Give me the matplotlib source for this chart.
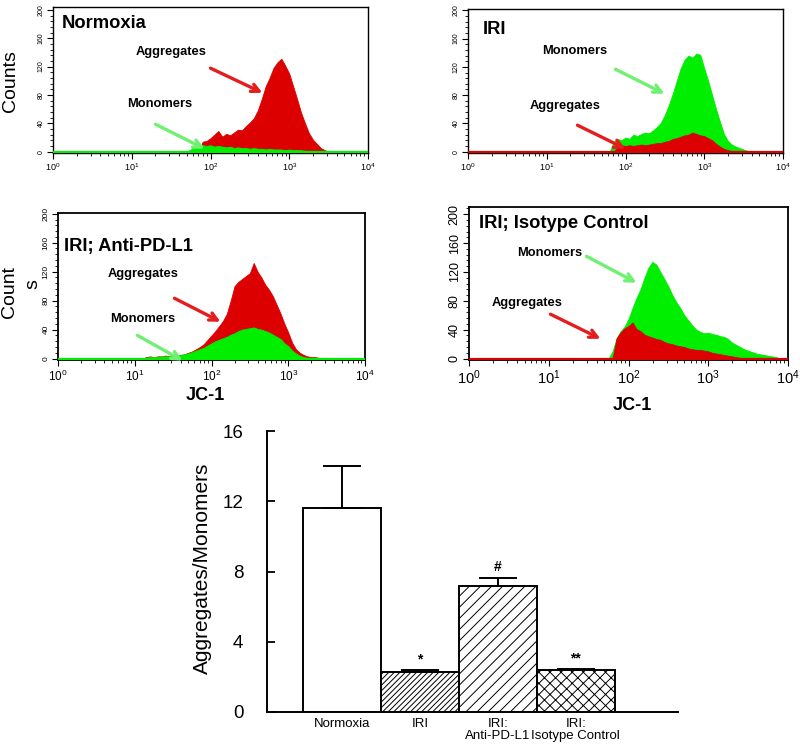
import numpy as np
import matplotlib
matplotlib.use('Agg')
import matplotlib.pyplot as plt
from matplotlib.ticker import MultipleLocator, LogLocator, NullFormatter

plt.rcParams['font.family'] = ['Liberation Sans', 'DejaVu Sans']
plt.rcParams['hatch.linewidth'] = 0.7

W, H = 800, 746
RED = '#dc0000'
GREEN = '#00ee00'
RED_ARROW = '#e41e1e'
GREEN_ARROW = '#70f070'

# ---- flow cytometry histograms: counts per bin, bins 0.05 decade wide ----
# first bin centre given as log10(JC-1)
norm_start = 1.70
norm_red = [0, 0, 0, 0, 14, 15, 19, 24, 29, 21, 25, 23, 27, 31, 30, 36, 41, 47,
            58, 74, 92, 104, 118, 126, 131, 121, 110, 92, 74, 55, 40, 26, 17, 11,
            5, 2, 0, 0]
norm_green = [0, 3, 8, 10, 9, 8, 9, 7, 8, 7, 6, 7, 5, 6, 5, 5, 4, 5, 4, 4, 3, 4,
              3, 3, 3, 2, 3, 2, 2, 2, 1, 1, 1, 1, 0, 0, 0, 0]

iri_start = 1.80
iri_green = [0, 14, 18, 16, 20, 18, 24, 22, 25, 27, 26, 30, 35, 41, 52, 66, 82,
             100, 118, 130, 136, 133, 139, 137, 118, 100, 80, 60, 42, 25, 15, 10,
             7, 5, 3, 1, 0]
iri_red = [0, 0, 6, 9, 8, 9, 8, 9, 10, 9, 10, 11, 12, 12, 14, 15, 18, 19, 21, 23,
           24, 27, 25, 23, 22, 19, 16, 11, 7, 4, 2, 1, 0, 0, 0, 0, 0]

anti_start = 1.10
anti_red = [0, 2, 3, 2, 3, 3, 4, 3, 4, 5, 5, 6, 8, 10, 13, 16, 20, 26, 32, 38,
            45, 52, 62, 80, 100, 106, 110, 114, 118, 132, 120, 112, 102, 95, 86,
            74, 62, 48, 36, 22, 13, 8, 5, 3, 2, 2, 1, 1, 1, 0, 0]
anti_green = [0, 1, 2, 2, 2, 3, 3, 3, 4, 5, 5, 6, 7, 9, 11, 13, 15, 18, 21, 24,
              26, 28, 30, 33, 35, 38, 40, 41, 42, 43, 41, 40, 38, 36, 33, 30, 27,
              21, 17, 11, 7, 4, 2, 1, 0, 0, 0, 0, 0, 0, 0]

iso_start = 1.75
iso_red = [0, 0, 28, 36, 42, 45, 50, 41, 38, 33, 31, 29, 27, 26, 23, 21, 20, 18,
           17, 16, 14, 13, 12, 12, 11, 10, 8, 7, 6, 5, 4, 3, 2, 1, 0, 0, 0, 0, 0,
           0, 0, 0, 0, 0]
iso_green = [0, 10, 28, 38, 44, 55, 70, 84, 96, 112, 126, 134, 130, 120, 110, 100,
             88, 78, 70, 60, 53, 46, 40, 37, 35, 36, 34, 33, 31, 30, 27, 22, 19,
             16, 13, 11, 9, 7, 6, 5, 4, 3, 2, 0]

# ---- bar chart ----
groups = ['Normoxia', 'IRI', 'IRI:\nAnti-PD-L1', 'IRI:\nIsotype Control']
ratio = [11.6, 2.3, 7.15, 2.4]
ratio_err = [2.4, 0.1, 0.5, 0.05]
marks = ['', '*', '#', '**']
hatches = ['', '//////', '///', 'xxx']

fig = plt.figure(figsize=(W / 100, H / 100), dpi=100)


def fp(x, y):
    """pixel position -> figure fraction"""
    return (x / W, 1 - y / H)


def hist_panel(box, ytop, start, red, green, red_on_top, base_color,
               xt_size, yt_size, frame_lw):
    l, t, r, b = box
    ax = fig.add_axes([l / W, 1 - b / H, (r - l) / W, (b - t) / H])
    x = 10 ** (start + 0.05 * np.arange(len(red)))
    layers = [(green, GREEN), (red, RED)] if red_on_top else [(red, RED), (green, GREEN)]
    for z, (vals, col) in enumerate(layers):
        ax.fill_between(x, vals, color=col, lw=0.6, edgecolor=col, zorder=2 + z)
    ax.axhline(0, color=base_color, lw=1.6, zorder=5)
    ax.set_xscale('log')
    ax.set_xlim(1, 1e4)
    ax.set_ylim(-2, ytop)
    ax.set_xticks([1, 10, 100, 1000, 10000])
    ax.set_xticklabels([r'$\mathdefault{10^{%d}}$' % i for i in range(5)])
    ax.xaxis.set_minor_locator(LogLocator(base=10, subs=np.arange(2, 10)))
    ax.xaxis.set_minor_formatter(NullFormatter())
    ax.set_yticks(range(0, 201, 40))
    ax.yaxis.set_minor_locator(MultipleLocator(8))
    ax.tick_params(axis='x', which='major', labelsize=xt_size, length=4, pad=2)
    ax.tick_params(axis='y', which='major', labelsize=yt_size, length=4, pad=2,
                   labelrotation=90)
    ax.tick_params(which='minor', length=2)
    for s in ax.spines.values():
        s.set_linewidth(frame_lw)
    for lab in ax.get_yticklabels():
        lab.set_va('center')
    return ax


hist_panel((53, 7, 368, 153), 204, norm_start, norm_red, norm_green,
           False, GREEN, 6.5, 5, 1.0)
hist_panel((468, 9, 783, 153), 202, iri_start, iri_red, iri_green,
           True, RED, 6.5, 5, 1.0)
hist_panel((58, 213, 365, 360), 201, anti_start, anti_red, anti_green,
           False, GREEN, 8.5, 6, 1.3)
hist_panel((469, 207, 788, 360), 210, iso_start, iso_red, iso_green,
           True, RED, 10.5, 9, 1.3)

# panel titles
for txt, (px, py) in [('Normoxia', (62, 28)), ('IRI', (483, 34)),
                      ('IRI; Anti-PD-L1', (64, 251)),
                      ('IRI; Isotype Control', (479, 228))]:
    fig.text(*fp(px, py), txt, fontsize=13.2, fontweight='bold',
             ha='left', va='baseline')

# arrows with labels: (text, text centre x, baseline y, tail, head, colour)
notes = [
    ('Aggregates', 171, 55, (208, 67), (265, 94), RED_ARROW),
    ('Monomers', 160, 107, (153, 123), (207, 150), GREEN_ARROW),
    ('Monomers', 575, 54, (613, 68), (667, 95), GREEN_ARROW),
    ('Aggregates', 565, 109, (575, 124), (628, 150), RED_ARROW),
    ('Aggregates', 143, 277, (172, 297), (223, 323), RED_ARROW),
    ('Monomers', 143, 322, (135, 334), (185, 362), GREEN_ARROW),
    ('Monomers', 550, 256, (584, 255), (639, 284), GREEN_ARROW),
    ('Aggregates', 527, 306, (548, 313), (603, 340), RED_ARROW),
]
for txt, tx, ty, tail, head, col in notes:
    fig.text(*fp(tx, ty), txt, fontsize=9.3, fontweight='bold',
             ha='center', va='baseline')
    fig.add_artist(matplotlib.patches.FancyArrowPatch(
        fp(*tail), fp(*head), transform=fig.transFigure,
        arrowstyle='->', mutation_scale=14, lw=2.4, color=col))

fig.text(*fp(11, 81), 'Counts', fontsize=14, rotation=90, ha='center', va='center')
fig.text(*fp(10, 292), 'Count', fontsize=14, rotation=90, ha='center', va='center')
fig.text(*fp(33, 284), 's', fontsize=14, rotation=90, ha='center', va='center')
fig.text(*fp(205, 396), 'JC-1', fontsize=13, fontweight='bold', ha='center', va='center')
fig.text(*fp(632, 405), 'JC-1', fontsize=13, fontweight='bold', ha='center', va='center')

# ---- bar chart ----
ax = fig.add_axes([267 / W, 1 - 712 / H, 411 / W, 281 / H])
xpos = np.arange(len(groups))
bars = ax.bar(xpos, ratio, width=1.0, color='white', edgecolor='black', lw=1.4)
for b, h in zip(bars, hatches):
    b.set_hatch(h)
ax.errorbar(xpos, ratio, yerr=[np.zeros(len(ratio)), ratio_err], fmt='none',
            ecolor='black', elinewidth=1.4, capsize=14, capthick=1.4)
for x, v, e, m in zip(xpos, ratio, ratio_err, marks):
    ax.text(x, v + e + 0.6, m, fontsize=10, fontweight='bold', ha='center', va='center')
ax.set_xlim(-0.96, 4.31)
ax.set_ylim(0, 16)
ax.set_yticks([0, 4, 8, 12, 16])
ax.set_xticks(xpos)
ax.set_xticklabels(groups, fontsize=9.5, linespacing=1.05)
ax.tick_params(axis='x', length=0, pad=4)
ax.tick_params(axis='y', direction='in', length=6, width=1.3, labelsize=13.5, pad=17)
ax.spines['top'].set_visible(False)
ax.spines['right'].set_visible(False)
ax.spines['left'].set_linewidth(1.4)
ax.spines['bottom'].set_linewidth(1.4)
ax.set_ylabel('Aggregates/Monomers', fontsize=15)
ax.yaxis.set_label_coords(-0.134, 0.512)

fig.savefig('out.png', dpi=100)
